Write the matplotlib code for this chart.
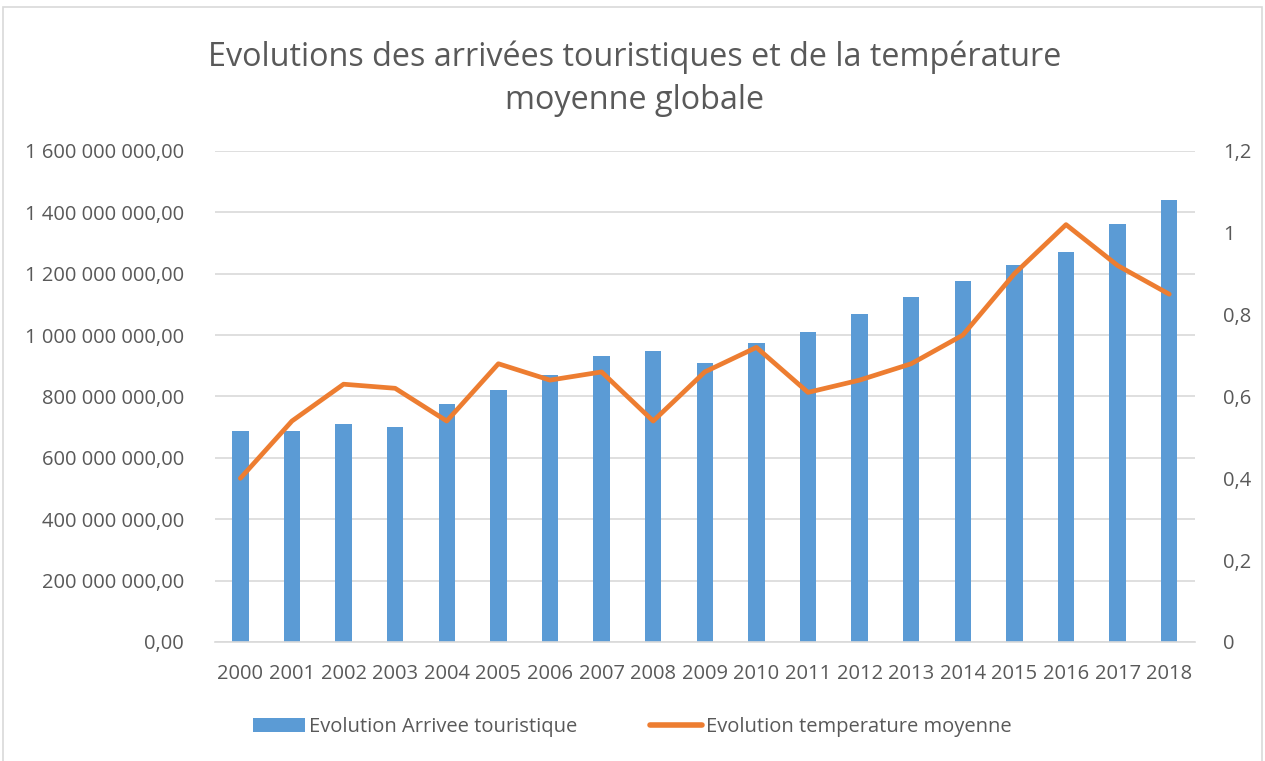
import matplotlib
matplotlib.use("Agg")
import matplotlib.pyplot as plt
from matplotlib.lines import Line2D
from matplotlib.patches import Patch, Rectangle

years = ["2000", "2001", "2002", "2003", "2004", "2005", "2006", "2007", "2008", "2009",
         "2010", "2011", "2012", "2013", "2014", "2015", "2016", "2017", "2018"]
arrivals = [689e6, 689e6, 710e6, 700e6, 774e6, 821e6, 869e6, 932e6, 948e6, 910e6,
            973e6, 1011e6, 1068e6, 1123e6, 1176e6, 1227e6, 1270e6, 1362e6, 1440e6]
temperature = [0.40, 0.54, 0.63, 0.62, 0.54, 0.68, 0.64, 0.66, 0.54, 0.66,
               0.72, 0.61, 0.64, 0.68, 0.75, 0.90, 1.02, 0.92, 0.85]
left_ticks = [0, 200e6, 400e6, 600e6, 800e6, 1000e6, 1200e6, 1400e6, 1600e6]
left_labels = ["0,00", "200 000 000,00", "400 000 000,00", "600 000 000,00",
               "800 000 000,00", "1 000 000 000,00", "1 200 000 000,00",
               "1 400 000 000,00", "1 600 000 000,00"]
right_ticks = [0, 0.2, 0.4, 0.6, 0.8, 1.0, 1.2]
right_labels = ["0", "0,2", "0,4", "0,6", "0,8", "1", "1,2"]

title = "Evolutions des arrivées touristiques et de la température\nmoyenne globale"
bar_label = "Evolution Arrivee touristique"
line_label = "Evolution temperature moyenne"

plt.rcParams["font.family"] = ["Open Sans", "DejaVu Sans"]

TEXT = "#595959"
GRID = "#d9d9d9"
BLUE = "#5B9BD5"
ORANGE = "#ED7D31"

fig = plt.figure(figsize=(12.65, 7.61), dpi=100)
fig.patch.set_facecolor("white")
# light frame around the whole chart
fig.patches.append(Rectangle((0.0025, -0.02), 0.995, 1.011, transform=fig.transFigure,
                             fill=False, edgecolor=GRID, linewidth=1.2))

ax = fig.add_axes([0.1696, 0.1564, 0.7751, 0.6452])
x = list(range(len(years)))
ax.bar(x, arrivals, width=0.32, color=BLUE, zorder=2)
ax.set_xlim(-0.5, len(years) - 0.5)
ax.set_ylim(0, 1.6e9)
ax.set_yticks(left_ticks)
ax.set_yticklabels(left_labels)
ax.set_xticks(x)
ax.set_xticklabels(years)
ax.yaxis.grid(True, color=GRID, linewidth=1.2, zorder=0)
ax.set_axisbelow(True)
for s in ["top", "right", "left"]:
    ax.spines[s].set_visible(False)
ax.spines["bottom"].set_color(GRID)
ax.spines["bottom"].set_linewidth(1.2)
ax.tick_params(axis="both", length=0, labelsize=14.5, colors=TEXT)
ax.tick_params(axis="y", pad=22)
ax.tick_params(axis="x", pad=16)

ax2 = ax.twinx()
ax2.plot(x, temperature, color=ORANGE, linewidth=3.4, solid_joinstyle="round",
         solid_capstyle="round", zorder=3)
ax2.set_ylim(0, 1.2)
ax2.set_yticks(right_ticks)
ax2.set_yticklabels(right_labels)
for s in ["top", "right", "left", "bottom"]:
    ax2.spines[s].set_visible(False)
ax2.tick_params(axis="y", length=0, labelsize=14.5, colors=TEXT, pad=20)

fig.text(0.502, 0.897, title, ha="center", va="center", fontsize=23.3, color=TEXT,
         linespacing=1.4)

handles = [Patch(facecolor=BLUE, edgecolor="none"),
           Line2D([0], [0], color=ORANGE, linewidth=4.0, solid_capstyle="round")]
leg = fig.legend(handles, [bar_label, line_label], loc="center", ncol=2,
                 bbox_to_anchor=(0.500, 0.045), frameon=False, fontsize=14.5,
                 handlelength=2.6, handletextpad=0.2, columnspacing=3.6,
                 labelcolor=TEXT)

fig.savefig("out.png", dpi=100, facecolor="white")
